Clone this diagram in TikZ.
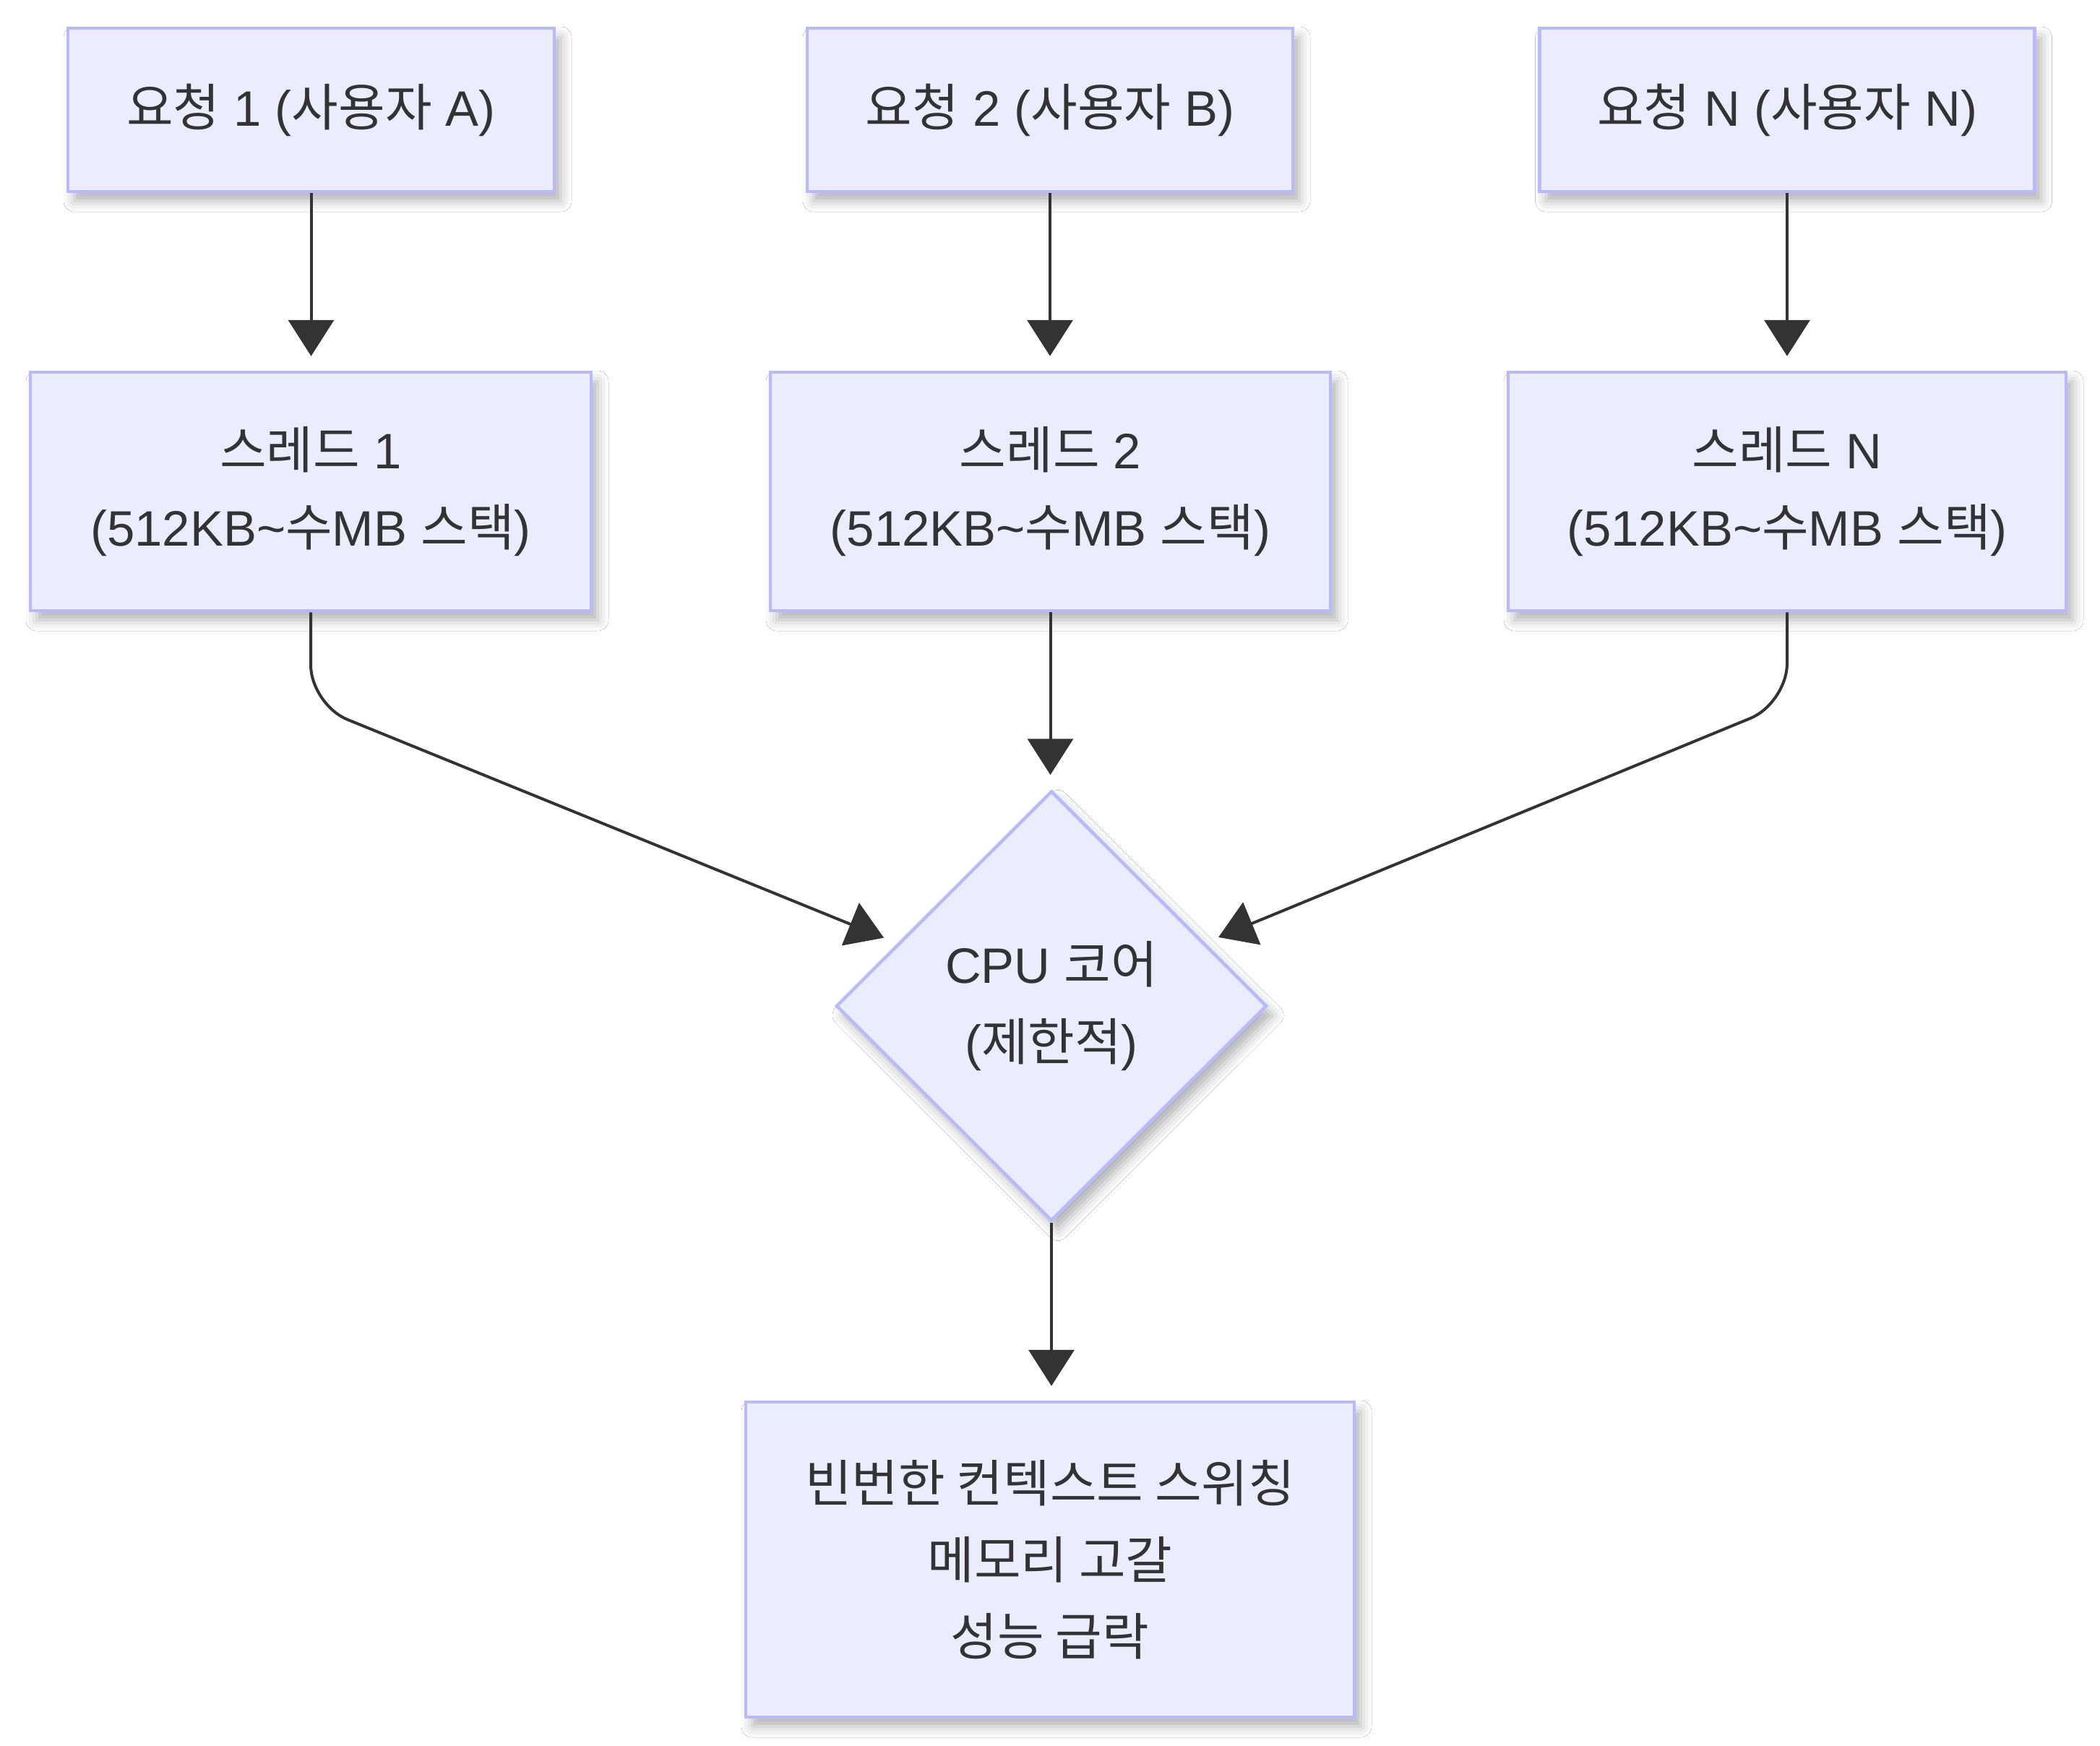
\documentclass[tikz,border=0pt]{standalone}
\usepackage{fontspec}
\setmainfont{Liberation Sans}
\newfontfamily\kr[Scale=1.02]{Noto Sans CJK KR}
\usetikzlibrary{arrows.meta,shapes.geometric,shadows.blur}
\definecolor{nodefill}{HTML}{ECECFF}
\definecolor{nodeline}{HTML}{B9B9FF}
\definecolor{ink}{HTML}{333333}
\newcommand{\K}[1]{{\kr #1}}
\begin{document}
\begin{tikzpicture}[
  base/.style={draw=nodeline, fill=nodefill, line width=0.045cm, align=center, inner sep=0pt,
    text=ink, font=\fontsize{19.6}{30.2}\selectfont,
    blur shadow={shadow xshift=0.09cm, shadow yshift=-0.13cm, shadow blur radius=0.15cm, shadow opacity=30}},
  box/.style={base, rectangle},
  decision/.style={base, diamond, aspect=1},
  arr/.style={draw=ink, line width=0.04cm, -{Triangle[length=0.5cm,width=0.63cm]}, shorten >=0.2cm}]
\fill[white] (0,0) rectangle (29.06,-24.16);
\useasboundingbox (0,0) rectangle (29.06,-24.16);

\node[box, minimum width=6.73cm, minimum height=2.26cm] (r1) at (4.305,-1.52) {\K{요청} 1 (\K{사용자} A)};
\node[box, minimum width=6.72cm, minimum height=2.26cm] (r2) at (14.53,-1.52) {\K{요청} 2 (\K{사용자} B)};
\node[box, minimum width=6.85cm, minimum height=2.26cm] (r3) at (24.73,-1.52) {\K{요청} N (\K{사용자} N)};

\node[box, minimum width=7.76cm, minimum height=3.30cm] (t1) at (4.30,-6.80) {\K{스레드} 1\\(512KB\textasciitilde\K{수}MB \K{스택})};
\node[box, minimum width=7.75cm, minimum height=3.30cm] (t2) at (14.535,-6.80) {\K{스레드} 2\\(512KB\textasciitilde\K{수}MB \K{스택})};
\node[box, minimum width=7.72cm, minimum height=3.30cm] (t3) at (24.73,-6.80) {\K{스레드} N\\(512KB\textasciitilde\K{수}MB \K{스택})};

\node[decision, minimum width=5.96cm, minimum height=5.95cm] (cpu) at (14.55,-13.92) {CPU \K{코어}\\(\K{제한적})};

\node[box, minimum width=8.42cm, minimum height=4.36cm] (bot) at (14.53,-21.58) {\K{빈번한 컨텍스트 스위칭}\\\K{메모리 고갈}\\\K{성능 급락}};

\coordinate (c1) at (4.30,-9.75);
\coordinate (c3) at (24.73,-9.73);

\draw[arr] (r1.south) -- (r1.south |- t1.north);
\draw[arr] (r2.south) -- (r2.south |- t2.north);
\draw[arr] (r3.south) -- (r3.south |- t3.north);
\draw[arr, rounded corners=0.55cm] (t1.south) -- (c1) -- (cpu);
\draw[arr] (t2.south) -- (t2.south |- cpu.north);
\draw[arr, rounded corners=0.55cm] (t3.south) -- (c3) -- (cpu);
\draw[arr] (cpu.south) -- (cpu.south |- bot.north);
\end{tikzpicture}
\end{document}
